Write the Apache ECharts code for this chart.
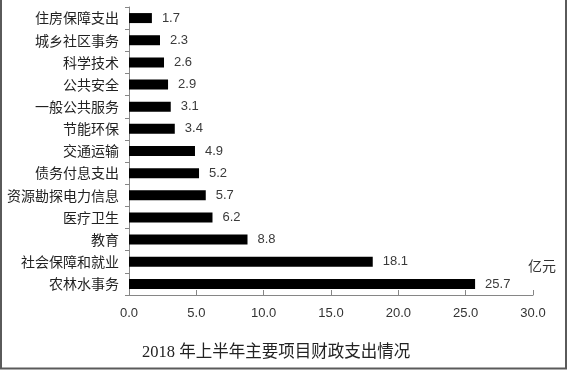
<!DOCTYPE html>
<html>
<head>
<meta charset="utf-8">
<script src="https://cdn.jsdelivr.net/npm/echarts@6/dist/echarts.min.js"></script>
<style>
html,body{margin:0;padding:0;background:#fff;}
#chart{width:569px;height:371px;}
</style>
</head>
<body>
<div id="chart"></div>
<script>
const categories = ['住房保障支出','城乡社区事务','科学技术','公共安全','一般公共服务','节能环保','交通运输','债务付息支出','资源勘探电力信息','医疗卫生','教育','社会保障和就业','农林水事务'];
const values = [1.7,2.3,2.6,2.9,3.1,3.4,4.9,5.2,5.7,6.2,8.8,18.1,25.7];
const xTicks = [0,5,10,15,20,25,30];
const titleText = '2018 年上半年主要项目财政支出情况';
const unitText = '亿元';

const chart = echarts.init(document.getElementById('chart'), null, {renderer:'canvas'});
chart.setOption({
  animation:false,
  backgroundColor:'#fff',
  grid:{left:129, right:36, top:7, bottom:76, containLabel:false},
  xAxis:{
    type:'value', min:xTicks[0], max:xTicks[xTicks.length-1], interval:5,
    axisLine:{show:true, lineStyle:{color:'#868686', width:1}},
    axisTick:{show:true, inside:true, length:5, lineStyle:{color:'#868686'}},
    splitLine:{show:false},
    axisLabel:{formatter:v=>v.toFixed(1), color:'#333', fontSize:13, margin:12, fontFamily:'Liberation Sans, Arial'}
  },
  yAxis:{
    type:'category', data:categories, inverse:true,
    axisLine:{show:true, lineStyle:{color:'#868686', width:1}},
    axisTick:{show:true, length:4, interval:0, lineStyle:{color:'#868686'}},
    axisLabel:{color:'#222', fontSize:14, margin:10, interval:0, fontFamily:'Noto Sans CJK SC'}
  },
  series:[{
    type:'bar', data:values, barWidth:10,
    itemStyle:{color:'#000'},
    label:{show:true, position:'right', distance:10, color:'#3a3a3a', fontSize:13, fontFamily:'Liberation Sans, Arial', formatter:p=>p.value.toFixed(1)}
  }],
  graphic:[
    {type:'text', left:142, top:344, style:{text:titleText, fontSize:16.5, fill:'#222', fontFamily:'Liberation Serif, Noto Sans CJK SC'}},
    {type:'text', left:528, top:259, style:{text:unitText, fontSize:14, fill:'#333', fontFamily:'Noto Sans CJK SC'}},
    {type:'polyline', shape:{points:[[1,0],[1,368.5],[566,368.5],[566,0]]}, style:{stroke:'#5a5a5a', lineWidth:2, fill:null}}
  ]
});
</script>
</body>
</html>
